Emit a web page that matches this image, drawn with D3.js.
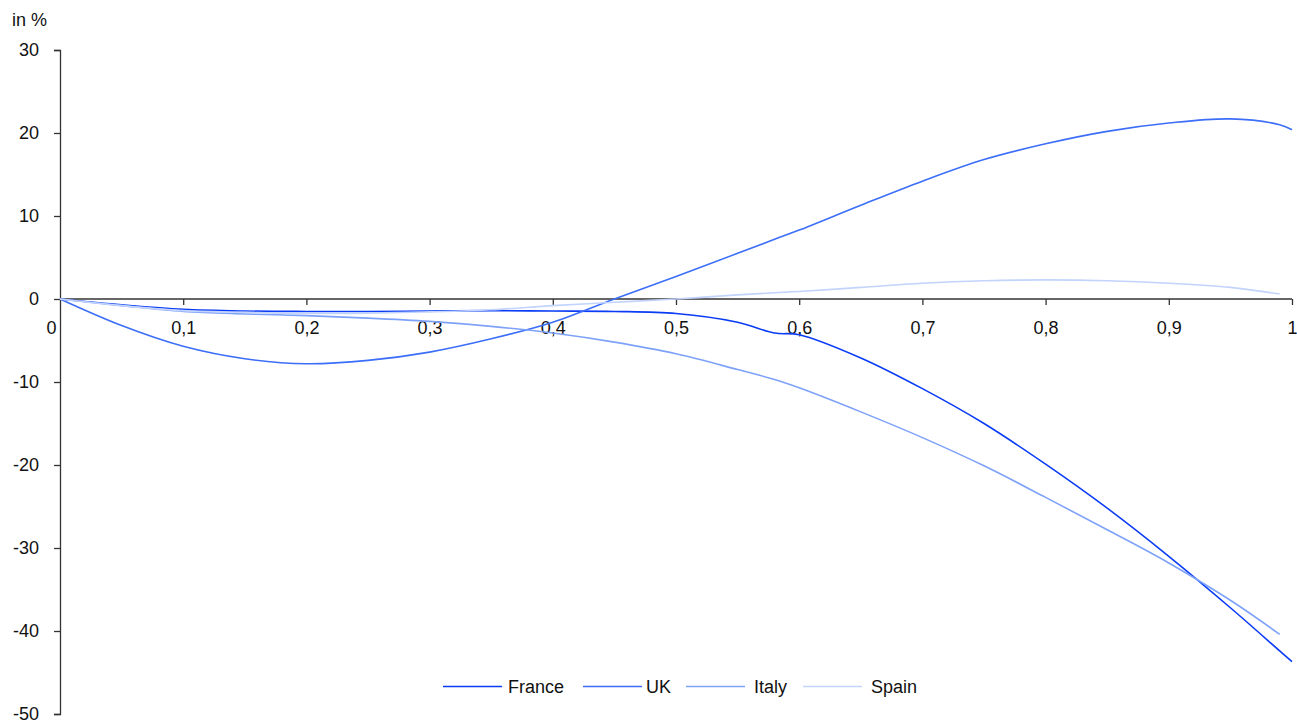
<!DOCTYPE html>
<html>
<head>
<meta charset="utf-8">
<script src="https://cdn.jsdelivr.net/npm/d3@7"></script>
<style>
  html, body { margin: 0; padding: 0; background: #fff; }
  svg text { font-family: "Liberation Sans", Arial, sans-serif; fill: #111; }
</style>
</head>
<body>
<svg id="chart" width="1297" height="726"></svg>
<script>
// ---- data ----
const xValues = [0, 0.05, 0.1, 0.15, 0.2, 0.25, 0.3, 0.35, 0.4, 0.45, 0.5, 0.55, 0.58, 0.6, 0.65, 0.7, 0.75, 0.8, 0.85, 0.9, 0.95, 0.99, 1];
const france = [0, -0.7, -1.25, -1.45, -1.5, -1.5, -1.45, -1.4, -1.45, -1.5, -1.75, -2.8, -4.1, -4.3, -7.1, -10.8, -15.0, -19.9, -25.2, -31.0, -37.2, -42.4, -43.7];
const uk     = [0, -3.2, -5.7, -7.2, -7.8, -7.4, -6.4, -4.8, -2.8, 0, 2.7, 5.5, 7.2, 8.3, 11.3, 14.2, 16.8, 18.7, 20.2, 21.2, 21.7, 21.0, 20.4];
const italy  = [0, -0.8, -1.5, -1.8, -2.0, -2.3, -2.7, -3.3, -4.1, -5.2, -6.6, -8.5, -9.7, -10.7, -13.6, -16.7, -20.1, -23.9, -27.8, -31.8, -36.3, -40.4, null];
const spain  = [0, -0.8, -1.4, -1.6, -1.75, -1.7, -1.55, -1.3, -0.8, -0.4, 0, 0.5, 0.75, 0.9, 1.4, 1.9, 2.2, 2.3, 2.2, 1.9, 1.4, 0.6, null];
const seriesNames = ["France", "UK", "Italy", "Spain"];
const seriesValues = [france, uk, italy, spain];
const seriesColors = ["#0a3cf5", "#3c6ef8", "#7ea2fa", "#c2d3fc"];
const xTicks = [0, 0.1, 0.2, 0.3, 0.4, 0.5, 0.6, 0.7, 0.8, 0.9, 1];
const yTicks = [-50, -40, -30, -20, -10, 0, 10, 20, 30];
const yUnit = "in %";

// ---- layout ----
const svg = d3.select("#chart");
const mLeft = 60, mRight = 1292, mTop = 50, mBottom = 714;
const x = d3.scaleLinear().domain([0, 1]).range([mLeft, mRight]);
const y = d3.scaleLinear().domain([-50, 30]).range([mBottom, mTop]);
const axisColor = "#333";
const fontSize = 18;

// y axis
const gy = svg.append("g").attr("transform", `translate(${mLeft},0)`)
  .call(d3.axisLeft(y).tickValues(yTicks).tickSize(6).tickPadding(15).tickFormat(d => String(d)));
gy.select(".domain").attr("stroke", axisColor).attr("stroke-width", 1.3);
gy.selectAll(".tick line").attr("stroke", axisColor).attr("stroke-width", 1.3);
gy.selectAll(".tick text").attr("font-size", fontSize).attr("font-family", "Liberation Sans, Arial, sans-serif").attr("fill", "#111");

// x axis at zero
const fmtX = d => d === 0 ? "0" : d === 1 ? "1" : d3.format(".1f")(d).replace(".", ",");
const gx = svg.append("g").attr("transform", `translate(0,${y(0)})`)
  .call(d3.axisBottom(x).tickValues(xTicks).tickSize(6).tickPadding(16).tickFormat(fmtX));
gx.select(".domain").attr("stroke", axisColor).attr("stroke-width", 1.3).attr("d", `M${mLeft},0H${mRight}`);
gx.selectAll(".tick line").attr("stroke", axisColor).attr("stroke-width", 1.3).filter(d => d === 0).remove();
gx.selectAll(".tick text").attr("font-size", fontSize).attr("font-family", "Liberation Sans, Arial, sans-serif").attr("fill", "#111")
  .attr("dx", d => d === 0 ? -9 : 0);

// unit label
svg.append("text").attr("x", 12).attr("y", 26).attr("font-size", fontSize).text(yUnit);

// lines
const line = d3.line()
  .defined(d => d[1] !== null)
  .x(d => x(d[0])).y(d => y(d[1]))
  .curve(d3.curveCatmullRom.alpha(0.5));

seriesValues.forEach((vals, i) => {
  const pts = xValues.map((xv, j) => [xv, vals[j]]);
  svg.append("path").datum(pts)
    .attr("fill", "none")
    .attr("stroke", seriesColors[i])
    .attr("stroke-width", 1.6)
    .attr("d", line);
});

// legend
const legendY = 686.5;
const legendX = [443, 583, 686, 803];
const legendTextDx = [65, 63, 68, 68];
seriesNames.forEach((name, i) => {
  const g = svg.append("g").attr("transform", `translate(${legendX[i]},${legendY})`);
  g.append("line").attr("x1", 0).attr("x2", 59).attr("y1", 0).attr("y2", 0)
    .attr("stroke", seriesColors[i]).attr("stroke-width", 1.6);
  g.append("text").attr("x", legendTextDx[i]).attr("y", 6.5).attr("font-size", 18).text(name);
});
</script>
</body>
</html>
